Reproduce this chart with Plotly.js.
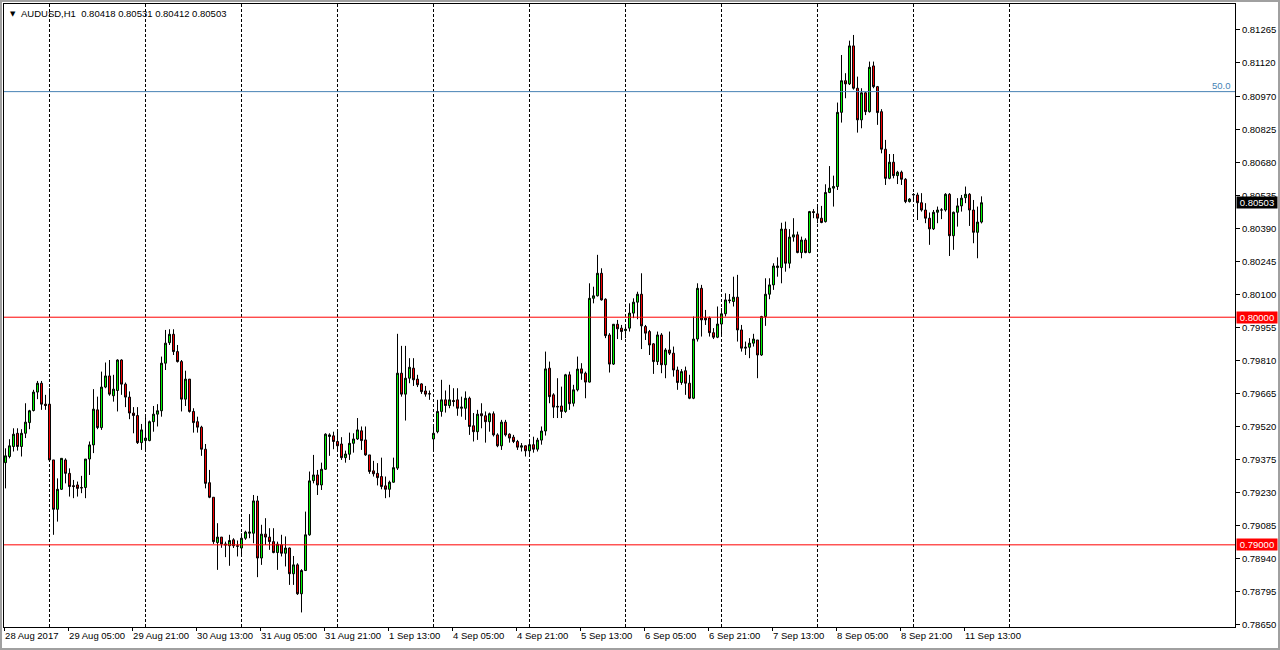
<!DOCTYPE html>
<html>
<head>
<meta charset="utf-8">
<script src="https://cdn.plot.ly/plotly-3.0.1.min.js"></script>
<style>
  html, body { margin: 0; padding: 0; background: #a0a0a0; width: 1280px; height: 650px; overflow: hidden; }
  #chart { position: absolute; left: 2px; top: 2px; width: 1276px; height: 646px; background: #fff; }
</style>
</head>
<body>
<div id="chart"></div>
<script>
// ---- DATA: AUDUSD H1, one value per hourly bar (bar 0 = 28 Aug 2017 13:00) ----
const open = [
0.79361,0.79388,0.79432,0.79490,0.79432,0.79490,0.79537,0.79590,0.79671,0.79710,
0.79618,0.79618,0.79373,0.79156,0.79244,0.79373,0.79314,0.79260,0.79263,0.79252,
0.79252,0.79377,0.79439,0.79593,0.79515,0.79693,0.79742,0.79655,0.79678,0.79812,
0.79706,0.79649,0.79579,0.79568,0.79449,0.79458,0.79458,0.79541,0.79574,0.79589,
0.79798,0.79888,0.79925,0.79849,0.79805,0.79640,0.79728,0.79586,0.79541,0.79517,
0.79420,0.79273,0.79209,0.79010,0.79034,0.79004,0.78996,0.79022,0.78996,0.78986,
0.79029,0.79051,0.79051,0.79193,0.78942,0.79047,0.79034,0.79014,0.78966,0.79000,
0.78963,0.78986,0.78873,0.78912,0.78785,0.78887,0.79044,0.79282,0.79307,0.79263,
0.79332,0.79476,0.79479,0.79454,0.79443,0.79383,0.79398,0.79446,0.79465,0.79501,
0.79461,0.79395,0.79325,0.79314,0.79300,0.79259,0.79244,0.79275,0.79337,0.79754,
0.79662,0.79732,0.79776,0.79728,0.79707,0.79676,0.79664,0.79465,0.79497,0.79586,
0.79637,0.79612,0.79634,0.79637,0.79600,0.79600,0.79644,0.79523,0.79497,0.79576,
0.79567,0.79541,0.79576,0.79483,0.79435,0.79539,0.79486,0.79473,0.79454,0.79429,
0.79435,0.79413,0.79440,0.79420,0.79460,0.79500,0.79776,0.79659,0.79605,0.79610,
0.79586,0.79747,0.79622,0.79681,0.79773,0.79754,0.79715,0.80083,0.80094,0.80193,
0.80079,0.79922,0.79794,0.79969,0.79952,0.79941,0.79952,0.80018,0.80066,0.80101,
0.79959,0.79937,0.79883,0.79805,0.79922,0.79791,0.79856,0.79842,0.79768,0.79713,
0.79765,0.79710,0.79644,0.79904,0.80127,0.79996,0.79996,0.79932,0.79912,0.79970,
0.80015,0.80076,0.80069,0.80088,0.79944,0.79864,0.79868,0.79886,0.79900,0.79834,
0.80003,0.80101,0.80142,0.80218,0.80218,0.80387,0.80237,0.80352,0.80362,0.80284,
0.80339,0.80284,0.80464,0.80454,0.80435,0.80420,0.80548,0.80567,0.80574,0.80900,
0.81039,0.81025,0.81192,0.81006,0.80867,0.80986,0.80903,0.81104,0.81013,0.80903,
0.80738,0.80610,0.80681,0.80622,0.80637,0.80606,0.80508,0.80537,0.80537,0.80503,
0.80471,0.80435,0.80388,0.80461,0.80471,0.80471,0.80540,0.80358,0.80461,0.80489,
0.80525,0.80540,0.80471,0.80373,0.80418
];
const high = [
0.79424,0.79464,0.79512,0.79512,0.79508,0.79622,0.79593,0.79681,0.79720,0.79720,
0.79659,0.79688,0.79373,0.79292,0.79380,0.79380,0.79336,0.79285,0.79278,0.79303,
0.79377,0.79454,0.79684,0.79651,0.79761,0.79801,0.79812,0.79747,0.79815,0.79815,
0.79713,0.79674,0.79605,0.79605,0.79531,0.79561,0.79546,0.79610,0.79618,0.79827,
0.79944,0.79947,0.79947,0.79878,0.79812,0.79765,0.79728,0.79600,0.79563,0.79523,
0.79443,0.79329,0.79209,0.79095,0.79034,0.79014,0.79044,0.79029,0.79019,0.79051,
0.79062,0.79135,0.79219,0.79215,0.79088,0.79117,0.79073,0.79073,0.79014,0.79044,
0.79037,0.78988,0.78951,0.78919,0.78893,0.79146,0.79322,0.79395,0.79329,0.79361,
0.79490,0.79490,0.79497,0.79508,0.79473,0.79414,0.79493,0.79490,0.79557,0.79520,
0.79520,0.79395,0.79369,0.79359,0.79383,0.79300,0.79282,0.79383,0.79927,0.79874,
0.79874,0.79820,0.79820,0.79747,0.79710,0.79698,0.79678,0.79527,0.79637,0.79725,
0.79678,0.79703,0.79688,0.79688,0.79651,0.79674,0.79651,0.79579,0.79593,0.79622,
0.79586,0.79581,0.79586,0.79490,0.79549,0.79549,0.79490,0.79483,0.79461,0.79447,
0.79437,0.79455,0.79475,0.79470,0.79520,0.79849,0.79805,0.79666,0.79732,0.79695,
0.79751,0.79761,0.79703,0.79827,0.79798,0.79761,0.80149,0.80134,0.80274,0.80215,
0.80083,0.79930,0.79970,0.79988,0.79966,0.79970,0.80061,0.80083,0.80112,0.80193,
0.79966,0.79944,0.79886,0.79937,0.79930,0.79864,0.79937,0.79871,0.79783,0.79772,
0.79783,0.79747,0.80003,0.80149,0.80142,0.80032,0.80003,0.79952,0.80047,0.80040,
0.80105,0.80102,0.80178,0.80186,0.79966,0.79893,0.79908,0.79927,0.79900,0.80006,
0.80171,0.80171,0.80237,0.80263,0.80415,0.80420,0.80387,0.80435,0.80376,0.80354,
0.80347,0.80467,0.80475,0.80493,0.80489,0.80584,0.80664,0.80622,0.80943,0.81152,
0.81072,0.81215,0.81240,0.81057,0.81006,0.80991,0.81123,0.81123,0.81016,0.80914,
0.80779,0.80717,0.80717,0.80643,0.80644,0.80611,0.80523,0.80545,0.80547,0.80545,
0.80501,0.80460,0.80471,0.80486,0.80479,0.80545,0.80545,0.80464,0.80523,0.80537,
0.80574,0.80545,0.80515,0.80486,0.80531
];
const low = [
0.79248,0.79380,0.79410,0.79414,0.79388,0.79469,0.79508,0.79586,0.79640,0.79593,
0.79593,0.79364,0.79044,0.79102,0.79241,0.79270,0.79212,0.79205,0.79212,0.79227,
0.79205,0.79307,0.79403,0.79508,0.79505,0.79688,0.79655,0.79629,0.79586,0.79659,
0.79605,0.79552,0.79490,0.79443,0.79417,0.79414,0.79455,0.79497,0.79520,0.79563,
0.79768,0.79878,0.79834,0.79801,0.79586,0.79610,0.79581,0.79493,0.79493,0.79391,
0.79248,0.79205,0.79004,0.78890,0.78987,0.78946,0.78908,0.78986,0.78949,0.78949,
0.79022,0.79029,0.79007,0.78858,0.78912,0.79000,0.78978,0.78963,0.78890,0.78949,
0.78905,0.78824,0.78824,0.78780,0.78703,0.78885,0.79040,0.79270,0.79219,0.79241,
0.79329,0.79391,0.79420,0.79410,0.79373,0.79361,0.79373,0.79405,0.79461,0.79417,
0.79391,0.79312,0.79300,0.79261,0.79244,0.79205,0.79209,0.79273,0.79329,0.79651,
0.79546,0.79710,0.79698,0.79693,0.79663,0.79651,0.79637,0.79417,0.79490,0.79563,
0.79581,0.79600,0.79608,0.79567,0.79563,0.79549,0.79483,0.79454,0.79461,0.79512,
0.79449,0.79497,0.79476,0.79429,0.79417,0.79476,0.79449,0.79447,0.79417,0.79410,
0.79388,0.79395,0.79405,0.79410,0.79440,0.79480,0.79622,0.79557,0.79557,0.79557,
0.79580,0.79593,0.79608,0.79674,0.79725,0.79644,0.79713,0.80061,0.80091,0.80073,
0.79908,0.79757,0.79790,0.79904,0.79900,0.79908,0.79937,0.79996,0.79991,0.79860,
0.79900,0.79834,0.79751,0.79790,0.79754,0.79732,0.79834,0.79739,0.79681,0.79703,
0.79659,0.79640,0.79640,0.79893,0.79915,0.79966,0.79915,0.79904,0.79908,0.79922,
0.80003,0.80061,0.80047,0.79893,0.79849,0.79834,0.79820,0.79871,0.79732,0.79830,
0.79962,0.80079,0.80120,0.80178,0.80149,0.80200,0.80215,0.80332,0.80281,0.80259,
0.80281,0.80281,0.80435,0.80413,0.80413,0.80416,0.80545,0.80486,0.80559,0.80855,
0.80962,0.81020,0.81000,0.80811,0.80830,0.80888,0.80899,0.81006,0.80845,0.80720,
0.80581,0.80606,0.80610,0.80585,0.80581,0.80501,0.80504,0.80515,0.80427,0.80464,
0.80413,0.80318,0.80383,0.80413,0.80431,0.80464,0.80269,0.80296,0.80398,0.80464,
0.80501,0.80401,0.80325,0.80259,0.80412
];
const close = [
0.79391,0.79435,0.79486,0.79432,0.79490,0.79539,0.79589,0.79671,0.79710,0.79618,
0.79612,0.79373,0.79156,0.79244,0.79380,0.79314,0.79256,0.79256,0.79248,0.79250,
0.79377,0.79439,0.79596,0.79515,0.79693,0.79742,0.79662,0.79684,0.79812,0.79706,
0.79649,0.79579,0.79568,0.79449,0.79505,0.79469,0.79541,0.79574,0.79589,0.79798,
0.79886,0.79925,0.79849,0.79805,0.79640,0.79728,0.79586,0.79537,0.79517,0.79420,
0.79270,0.79209,0.79014,0.79034,0.79004,0.78999,0.79019,0.78996,0.78994,0.79029,
0.79056,0.79056,0.79193,0.78942,0.79047,0.79034,0.79014,0.78966,0.79003,0.78963,
0.78986,0.78873,0.78912,0.78785,0.78887,0.79044,0.79281,0.79307,0.79263,0.79332,
0.79486,0.79483,0.79454,0.79435,0.79383,0.79399,0.79446,0.79465,0.79505,0.79458,
0.79395,0.79322,0.79312,0.79295,0.79256,0.79244,0.79275,0.79339,0.79754,0.79662,
0.79732,0.79780,0.79725,0.79703,0.79673,0.79662,0.79663,0.79490,0.79586,0.79637,
0.79612,0.79637,0.79630,0.79600,0.79605,0.79644,0.79520,0.79497,0.79574,0.79567,
0.79541,0.79576,0.79483,0.79435,0.79539,0.79483,0.79469,0.79454,0.79429,0.79435,
0.79413,0.79440,0.79420,0.79460,0.79500,0.79773,0.79651,0.79605,0.79608,0.79586,
0.79747,0.79620,0.79681,0.79772,0.79754,0.79715,0.80083,0.80094,0.80193,0.80076,
0.79919,0.79794,0.79969,0.79949,0.79937,0.79947,0.80018,0.80066,0.80101,0.79962,
0.79930,0.79878,0.79805,0.79922,0.79791,0.79856,0.79842,0.79768,0.79713,0.79761,
0.79710,0.79644,0.79904,0.80127,0.79988,0.79988,0.79932,0.79912,0.79970,0.80015,
0.80076,0.80073,0.80088,0.79944,0.79864,0.79868,0.79886,0.79904,0.79834,0.80003,
0.80101,0.80142,0.80225,0.80225,0.80387,0.80237,0.80352,0.80362,0.80284,0.80339,
0.80284,0.80464,0.80460,0.80435,0.80416,0.80548,0.80567,0.80574,0.80900,0.81039,
0.81025,0.81192,0.81006,0.80867,0.80986,0.80903,0.81098,0.81013,0.80899,0.80738,
0.80610,0.80681,0.80622,0.80637,0.80606,0.80508,0.80519,0.80539,0.80503,0.80471,
0.80435,0.80388,0.80461,0.80471,0.80471,0.80540,0.80358,0.80461,0.80489,0.80523,
0.80540,0.80471,0.80373,0.80418,0.80503
];

// Time-axis labels (one every 16 bars) and price-axis labels
const timeLabels = ["28 Aug 2017","29 Aug 05:00","29 Aug 21:00","30 Aug 13:00","31 Aug 05:00",
  "31 Aug 21:00","1 Sep 13:00","4 Sep 05:00","4 Sep 21:00","5 Sep 13:00","6 Sep 05:00",
  "6 Sep 21:00","7 Sep 13:00","8 Sep 05:00","8 Sep 21:00","11 Sep 13:00"];
const priceTicks = [0.81265,0.81120,0.80970,0.80825,0.80680,0.80535,0.80390,0.80245,0.80100,
  0.79955,0.79810,0.79665,0.79520,0.79375,0.79230,0.79085,0.78940,0.78795,0.78650];
const priceTickText = ["0.81265","0.81120","0.80970","0.80825","0.80680","0.80535","0.80390",
  "0.80245","0.80100","0.79955","0.79810","0.79665","0.79520","0.79375","0.79230","0.79085",
  "0.78940","0.78795","0.78650"];
// Day separators: bar index of each midnight (first one 29 Aug 00:00), every 24 bars
const firstMidnightBar = 11;
const barsPerDay = 24;
const separatorCount = 11;
// Horizontal levels
const supportLevels = [0.80000, 0.79000];
const fibLevel = 0.80991;
const fibLabel = "50.0";
const symbol = "AUDUSD,H1";
const lastBar = {o: "0.80418", h: "0.80531", l: "0.80412", c: "0.80503"};

// ---- CHART ----
const FONT = "Liberation Sans, Arial, sans-serif";
const bars = open.map((_, i) => i);
const labelEvery = 16;
const tickShift = -0.35; // MT4 puts the label tick at the left edge of its bar

const trace = {
  type: 'candlestick',
  x: bars, open: open, high: high, low: low, close: close,
  increasing: {line: {color: '#000000', width: 1}, fillcolor: '#00ff00'},
  decreasing: {line: {color: '#000000', width: 1}, fillcolor: '#ff0000'},
  whiskerwidth: 0,
  hoverinfo: 'skip'
};

const shapes = [];
for (let k = 0; k < separatorCount; k++) {
  const b = firstMidnightBar + k * barsPerDay;
  shapes.push({type: 'line', xref: 'x', yref: 'paper', x0: b, x1: b, y0: 0, y1: 1,
    layer: 'below', line: {color: '#000000', width: 1, dash: '3px,2px'}});
}
supportLevels.forEach(v => shapes.push({type: 'line', xref: 'paper', yref: 'y', x0: 0, x1: 1,
  y0: v, y1: v, layer: 'above', line: {color: '#ff0000', width: 1}}));
shapes.push({type: 'line', xref: 'paper', yref: 'y', x0: 0, x1: 1, y0: fibLevel, y1: fibLevel,
  layer: 'above', line: {color: '#4682b4', width: 1}});

const annotations = [
  {xref: 'paper', yref: 'paper', x: 0, y: 1, xanchor: 'left', yanchor: 'top', xshift: 4, yshift: -4,
   text: '\u25BC', showarrow: false, font: {family: 'DejaVu Sans', size: 7, color: '#000'}},
  {xref: 'paper', yref: 'paper', x: 0, y: 1, xanchor: 'left', yanchor: 'top', xshift: 15, yshift: -2,
   text: symbol + '\u00a0\u00a0' + [lastBar.o, lastBar.h, lastBar.l, lastBar.c].join(' '),
   showarrow: false, font: {family: FONT, size: 9.5, color: '#000'}},
  {xref: 'paper', yref: 'y', x: 1, y: fibLevel, xanchor: 'right', yanchor: 'bottom', xshift: -2, yshift: -1,
   text: fibLabel, showarrow: false, font: {family: FONT, size: 9.5, color: '#4682b4'}},
  {xref: 'paper', yref: 'y', x: 1, y: close[close.length - 1], xanchor: 'left', yanchor: 'middle', xshift: 1,
   text: close[close.length - 1].toFixed(5), showarrow: false, bgcolor: '#000000', width: 40, height: 11,
   borderpad: 0, font: {family: FONT, size: 9.5, color: '#ffffff'}}
];
supportLevels.forEach(v => annotations.push({xref: 'paper', yref: 'y', x: 1, y: v, xanchor: 'left',
  yanchor: 'middle', xshift: 1, text: v.toFixed(5), showarrow: false, bgcolor: '#ff0000', width: 40,
  height: 11, borderpad: 0, font: {family: FONT, size: 9.5, color: '#ffffff'}}));

const layout = {
  width: 1276, height: 646,
  margin: {l: 2, r: 43, t: 2, b: 21, pad: 0},
  paper_bgcolor: '#ffffff', plot_bgcolor: '#ffffff',
  showlegend: false,
  font: {family: FONT, size: 9.5, color: '#000'},
  xaxis: {
    range: [-0.375, 307.375],
    rangeslider: {visible: false},
    tickvals: timeLabels.map((_, k) => k * labelEvery + tickShift),
    ticktext: timeLabels,
    tickangle: 0,
    ticks: 'outside', ticklen: 3, tickcolor: '#000', tickwidth: 1,
    ticklabelposition: 'outside right',
    tickfont: {family: FONT, size: 9.5, color: '#000'},
    showgrid: false, zeroline: false,
    showline: true, mirror: true, linecolor: '#000', linewidth: 1,
    fixedrange: true
  },
  yaxis: {
    side: 'right',
    range: [0.78639, 0.81376],
    tickvals: priceTicks, ticktext: priceTickText,
    ticks: 'outside', ticklen: 4, tickcolor: '#000', tickwidth: 1,
    tickfont: {family: FONT, size: 9.5, color: '#000'},
    showgrid: false, zeroline: false,
    showline: true, mirror: true, linecolor: '#000', linewidth: 1,
    fixedrange: true
  },
  shapes: shapes,
  annotations: annotations
};

Plotly.newPlot('chart', [trace], layout, {displayModeBar: false, staticPlot: true});
</script>
</body>
</html>
